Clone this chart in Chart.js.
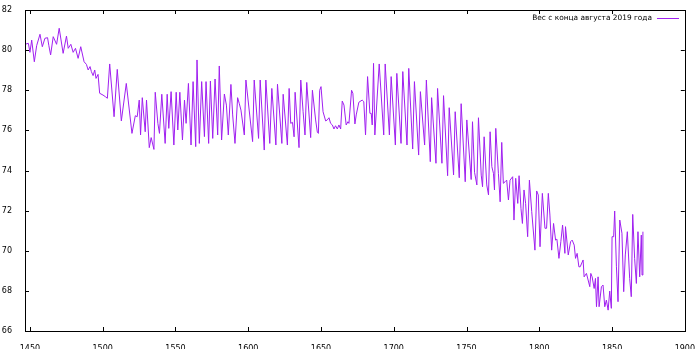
<!DOCTYPE html>
<html>
<head>
<meta charset="utf-8">
<script src="https://cdn.jsdelivr.net/npm/chart.js@4/dist/chart.umd.min.js"></script>
<style>
  html, body { margin: 0; padding: 0; background: #fff; }
  #wrap { width: 700px; height: 349px; }
</style>
</head>
<body>
<div id="wrap"><canvas id="chart"></canvas></div>
<script>
// values (turning points of the curve)
const days = [
  1446.6, 1448.9, 1450.0, 1451.2, 1453.0, 1454.6, 1456.9, 1458.5, 1460.3, 1462.1,
  1463.0, 1464.2, 1466.0, 1468.3, 1470.1, 1472.8, 1475.1, 1476.3, 1478.1, 1479.7,
  1481.3, 1483.1, 1484.9, 1487.2, 1488.8, 1490.0, 1491.3, 1492.2, 1493.4, 1494.5,
  1495.4, 1496.8, 1497.9, 1500.2, 1501.8, 1503.2, 1504.8, 1507.8, 1510.0, 1512.8,
  1516.2, 1520.1, 1522.4, 1523.7, 1525.1, 1526.0, 1527.2, 1529.2, 1530.1, 1532.0,
  1533.3, 1535.2, 1536.1, 1537.9, 1539.0, 1540.6, 1542.9, 1544.3, 1545.4, 1547.0,
  1548.9, 1550.5, 1551.6, 1553.0, 1554.8, 1556.2, 1557.3, 1558.9, 1560.7, 1562.1,
  1563.9, 1564.8, 1566.4, 1568.0, 1569.9, 1571.0, 1572.8, 1574.0, 1575.6, 1577.2,
  1579.0, 1580.1, 1581.7, 1583.6, 1585.0, 1586.3, 1588.1, 1589.3, 1590.9, 1592.7,
  1593.8, 1595.0, 1597.3, 1598.4,
  1603.0, 1604.1, 1607.1, 1608.2, 1611.0, 1612.1, 1614.8, 1616.2, 1619.0, 1620.1,
  1623.1, 1624.0, 1626.9, 1628.1, 1629.2, 1630.4, 1631.5, 1632.2, 1634.9, 1636.1,
  1637.7, 1639.0, 1640.2, 1642.9, 1644.1, 1646.3, 1647.5, 1648.2, 1649.1, 1650.0,
  1651.4, 1653.2, 1654.3, 1655.5, 1656.6, 1657.8, 1658.9, 1660.0, 1661.2, 1662.3,
  1663.5, 1664.6, 1665.8, 1667.3, 1668.5, 1669.2, 1671.0, 1671.9, 1673.3, 1674.2,
  1676.0, 1678.3, 1679.4, 1680.6, 1682.0, 1683.6, 1684.5, 1685.2, 1686.1, 1687.0,
  1690.0, 1693.1, 1694.1, 1697.0, 1698.2, 1701.1, 1702.1, 1705.0, 1706.2, 1709.1,
  1710.3, 1713.0, 1714.2, 1717.1, 1718.3, 1721.2, 1722.4, 1725.1, 1726.0, 1729.0,
  1730.1, 1733.1, 1734.2, 1737.0, 1738.1, 1741.1, 1742.2, 1745.0, 1746.3, 1749.1,
  1750.2, 1753.2,
  1754.1, 1755.5, 1757.1, 1758.2, 1760.1, 1761.0, 1762.1, 1763.9, 1765.1, 1766.2,
  1767.4, 1768.5, 1769.2, 1770.1, 1771.9, 1773.1, 1774.2, 1775.3, 1776.5, 1777.6,
  1778.8, 1779.9, 1781.7, 1782.6, 1783.8, 1785.2, 1786.1, 1787.4, 1788.4, 1789.5,
  1790.6, 1792.0, 1793.2, 1794.8, 1797.0, 1798.2, 1799.3, 1800.5, 1802.1, 1803.9,
  1805.0, 1806.2, 1807.3, 1808.5, 1809.8, 1811.2, 1812.1, 1813.5, 1814.8, 1816.0,
  1817.6, 1818.0, 1819.9, 1821.5, 1822.6, 1824.0, 1824.9, 1826.0, 1827.2, 1828.1,
  1830.1, 1830.8, 1832.4, 1834.7, 1835.4, 1836.3, 1837.7, 1838.6, 1839.3, 1840.4,
  1841.1, 1842.7, 1843.8, 1845.0, 1846.1, 1847.3, 1848.4, 1849.5, 1850.0, 1851.1,
  1851.8, 1853.0, 1854.1, 1855.3, 1856.8, 1858.0, 1859.1, 1860.5, 1862.1, 1863.2,
  1864.2, 1865.5, 1866.7, 1867.8, 1869.0, 1870.1, 1870.6, 1871.2
];
const weights = [
  80.29, 80.34, 79.89, 80.50, 79.42, 80.22, 80.79, 80.17, 80.59, 80.62,
  80.22, 79.76, 80.67, 80.29, 81.09, 79.84, 80.70, 80.09, 80.29, 79.89,
  80.09, 79.59, 80.17, 79.42, 79.29, 79.01, 79.18, 78.93, 78.73, 79.01,
  78.59, 78.79, 77.85, 77.76, 77.68, 77.60, 79.31, 76.68, 79.04, 76.47,
  78.34, 75.85, 76.73, 76.68, 77.51, 75.77, 77.63, 75.93, 77.51, 75.14,
  75.64, 75.05, 77.90, 76.35, 75.85, 77.80, 75.35, 77.80, 76.10, 77.93,
  75.27, 77.90, 76.02, 77.90, 75.52, 77.51, 76.35, 78.34, 75.27, 78.43,
  75.19, 79.51, 75.35, 78.43, 75.69, 78.43, 75.35, 78.46, 75.60, 78.56,
  75.77, 79.21, 75.52, 77.81, 77.26, 75.77, 78.29, 76.77, 75.35, 77.63,
  77.35, 77.01, 75.77, 78.51,
  75.44, 78.51, 75.60, 78.51, 75.02, 78.51, 75.35, 78.09, 75.27, 78.30,
  75.35, 77.80, 75.27, 78.09, 76.35, 76.40, 75.68, 77.90, 75.14, 78.51,
  76.93, 75.77, 78.39, 75.64, 78.00, 76.52, 75.90, 75.85, 78.00, 78.18,
  76.93, 76.47, 76.52, 76.63, 76.35, 76.27, 76.07, 76.23, 76.07, 76.27,
  76.07, 77.46, 77.26, 76.27, 76.43, 76.35, 78.00, 77.85, 76.32, 76.77,
  77.40, 77.51, 77.43, 75.77, 78.68, 76.85, 76.85, 76.27, 79.34, 75.77,
  79.31, 75.77, 79.31, 75.77, 78.68, 75.27, 78.84, 75.35, 78.93, 75.27,
  79.09, 75.07, 78.43, 74.77, 77.93, 75.27, 78.51, 74.44, 77.63, 74.36,
  78.09, 74.36, 77.73, 73.74, 77.13, 73.78, 76.93, 73.64, 77.33, 73.44,
  76.52, 73.55,
  76.43, 73.91, 73.28, 76.63, 73.77, 73.19, 75.68, 73.28, 72.78, 75.93,
  74.19, 73.86, 73.03, 76.10, 73.86, 72.44, 75.40, 73.36, 73.44, 73.52,
  72.53, 73.52, 73.69, 71.53, 73.61, 72.36, 73.74, 72.11, 71.36, 73.03,
  72.36, 70.70, 73.52, 71.95, 70.03, 72.98, 72.78, 70.20, 72.86, 71.12,
  71.12, 72.86, 71.78, 70.03, 71.36, 70.53, 70.58, 69.62, 70.45, 71.28,
  69.87, 71.20, 69.79, 70.45, 70.53, 70.28, 69.62, 69.87, 69.20, 69.20,
  69.54, 68.70, 68.87, 68.21, 68.87, 68.70, 68.12, 68.62, 67.21, 68.70,
  67.21, 68.21, 68.29, 67.21, 67.54, 67.04, 67.99, 67.13, 70.70, 70.70,
  71.98, 69.20, 67.46, 71.53, 70.87, 67.96, 69.79, 70.95, 68.62, 67.71,
  71.81, 69.62, 68.37, 70.95, 68.70, 70.78, 68.79, 70.95
];
const xTicks = [1450, 1500, 1550, 1600, 1650, 1700, 1750, 1800, 1850, 1900];
const yTicks = [66, 68, 70, 72, 74, 76, 78, 80, 82];
const seriesName = 'Вес с конца августа 2019 года';

const lineColor = '#a020f0';
const labelFont = { family: 'DejaVu Sans', size: 8 };
const keyFontSize = 7.4;

// gnuplot-like frame: box round the plot, ticks pointing inward on all four sides
const framePlugin = {
  id: 'frame',
  afterDraw(chart) {
    const { ctx, chartArea: a, scales } = chart;
    ctx.save();
    ctx.strokeStyle = '#000';
    ctx.lineWidth = 1;
    ctx.beginPath();
    xTicks.forEach((v) => {
      const px = Math.round(scales.x.getPixelForValue(v)) + 0.5;
      ctx.moveTo(px, a.bottom);
      ctx.lineTo(px, a.bottom - 4);
      ctx.moveTo(px, a.top);
      ctx.lineTo(px, a.top + 4);
    });
    yTicks.forEach((v) => {
      const py = Math.round(scales.y.getPixelForValue(v)) + 0.5;
      ctx.moveTo(a.left, py);
      ctx.lineTo(a.left + 4, py);
      ctx.moveTo(a.right, py);
      ctx.lineTo(a.right - 4, py);
    });
    ctx.stroke();
    ctx.strokeRect(Math.round(a.left) + 0.5, Math.round(a.top) + 0.5,
      Math.round(a.right - a.left), Math.round(a.bottom - a.top));

    // key, top right: text first, then the line sample
    ctx.font = `${keyFontSize}px "${labelFont.family}"`;
    ctx.fillStyle = '#000';
    ctx.textAlign = 'right';
    ctx.textBaseline = 'middle';
    ctx.fillText(seriesName, 652, 18);
    ctx.strokeStyle = lineColor;
    ctx.beginPath();
    ctx.moveTo(657, 18.5);
    ctx.lineTo(679, 18.5);
    ctx.stroke();
    ctx.restore();
  },
};

new Chart(document.getElementById('chart'), {
  type: 'line',
  data: {
    datasets: [{
      label: seriesName,
      data: days.map((d, i) => ({ x: d, y: weights[i] })),
      borderColor: lineColor,
      borderWidth: 1,
      pointRadius: 0,
      tension: 0,
      fill: false,
    }],
  },
  options: {
    responsive: true,
    maintainAspectRatio: false,
    animation: false,
    layout: { padding: { top: 10, right: 14, left: 0, bottom: 0 } },
    plugins: {
      legend: { display: false },
      tooltip: { enabled: false },
    },
    scales: {
      x: {
        type: 'linear',
        min: 1446.6,
        max: 1900,
        afterBuildTicks: (scale) => { scale.ticks = xTicks.map((v) => ({ value: v })); },
        afterFit: (scale) => { scale.height = 18; },
        grid: { display: false },
        border: { display: false },
        ticks: {
          font: labelFont, color: '#000', padding: 5, maxRotation: 0,
          callback: (v) => String(v),
        },
      },
      y: {
        min: 66,
        max: 82,
        afterBuildTicks: (scale) => { scale.ticks = yTicks.map((v) => ({ value: v })); },
        afterFit: (scale) => { scale.width = 25; },
        grid: { display: false },
        border: { display: false },
        ticks: {
          font: labelFont, color: '#000', padding: 5,
          callback: (v) => String(v),
        },
      },
    },
  },
  plugins: [framePlugin],
});
</script>
</body>
</html>
